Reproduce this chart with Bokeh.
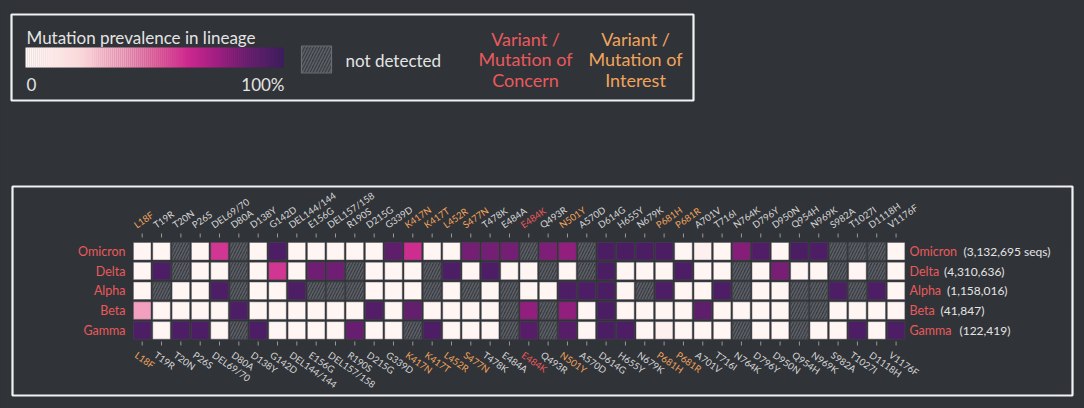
import numpy as np
from bokeh.plotting import figure
from bokeh.models import Range1d, ColumnDataSource, LinearColorMapper
from bokeh.core.properties import value
from bokeh.embed import file_html
from bokeh.resources import INLINE

# ---------------- data ----------------
mutations = ["L18F", "T19R", "T20N", "P26S", "DEL69/70", "D80A", "D138Y", "G142D",
             "DEL144/144", "E156G", "DEL157/158", "R190S", "D215G", "G339D", "K417N",
             "K417T", "L452R", "S477N", "T478K", "E484A", "E484K", "Q493R", "N501Y",
             "A570D", "D614G", "H655Y", "N679K", "P681H", "P681R", "A701V", "T716I",
             "N764K", "D796Y", "D950N", "Q954H", "N969K", "S982A", "T1027I", "D1118H",
             "V1176F"]
mutation_kind = ["interest", "", "", "", "", "", "", "", "", "", "", "", "", "",
                 "interest", "interest", "interest", "interest", "", "", "concern", "",
                 "interest", "", "", "", "", "interest", "interest", "", "", "", "", "",
                 "", "", "", "", "", ""]
lineages = ["Omicron", "Delta", "Alpha", "Beta", "Gamma"]
seq_counts = ["(3,132,695 seqs)", "(4,310,636)", "(1,158,016)", "(41,847)", "(122,419)"]

N = None
omicron = [0.01, 0.01, N, 0.01, 0.6, N, 0.01, 0.95, 0.01, 0.01, 0.01, 0.01, 0.01, 0.9, 0.62,
           0.01, 0.01, 0.84, 0.84, 0.84, N, 0.82, 0.77, N, 0.96, 0.96, 0.96, 0.96, 0.01, 0.05,
           0.01, 0.8, 0.94, 0.01, 0.96, 0.95, N, N, N, 0.01]
delta = [0.01, 0.95, N, 0.01, 0.01, N, 0.01, 0.6, 0.01, 0.85, 0.85, N, 0.01, 0.01, 0.01,
         N, 0.95, 0.01, 0.95, 0.01, 0.01, N, 0.01, N, 0.96, 0.01, 0.01, 0.01, 0.95, 0.01,
         0.01, N, 0.01, 0.83, 0.01, 0.01, N, 0.01, N, 0.01]
alpha = [0.01, N, 0.01, 0.01, 0.95, N, 0.01, 0.01, 0.95, N, N, N, 0.01, 0.01, 0.01,
         N, 0.01, N, 0.01, N, 0.01, 0.01, 0.95, 0.95, 0.96, 0.01, N, 0.95, 0.01, 0.01,
         0.95, N, 0.01, 0.01, N, N, 0.95, N, 0.95, 0.01]
beta = [0.38, 0.01, 0.01, 0.01, 0.01, 0.95, 0.01, 0.01, 0.01, 0.01, 0.01, 0.01, 0.93, 0.01, 0.88,
        0.01, 0.01, 0.01, 0.01, N, 0.77, N, 0.77, 0.01, 0.96, 0.01, 0.01, 0.01, 0.01, 0.9,
        0.01, 0.01, 0.01, 0.01, N, N, 0.01, 0.01, 0.01, 0.01]
gamma = [0.95, 0.01, 0.95, 0.95, 0.01, N, 0.95, 0.01, 0.01, 0.01, 0.01, 0.87, 0.01, 0.01, N,
         0.95, 0.01, 0.01, 0.01, N, 0.92, N, 0.92, 0.01, 0.96, 0.95, 0.01, 0.05, 0.01, 0.01,
         0.01, N, 0.01, 0.01, N, 0.01, 0.01, 0.95, 0.01, 0.95]
prevalence = [omicron, delta, alpha, beta, gamma]

# ---------------- style ----------------
BG = "#303338"
FONT = value("Lato")
TXT = "#e4e4e4"
RED = "#ea5a5c"
ORANGE = "#f0a45c"
LABEL = "#d6d6d6"

stops = [(0.0, (255, 247, 245)), (0.2, (250, 218, 220)), (0.38, (242, 160, 190)),
         (0.52, (224, 90, 156)), (0.63, (204, 40, 142)), (0.75, (156, 30, 128)),
         (0.87, (104, 30, 112)), (1.0, (62, 28, 94))]

def lerp_color(t):
    for (a, ca), (b, cb) in zip(stops[:-1], stops[1:]):
        if t <= b:
            f = (t - a) / (b - a)
            c = [int(round(ca[i] + (cb[i] - ca[i]) * f)) for i in range(3)]
            return "#%02x%02x%02x" % tuple(c)
    return "#%02x%02x%02x" % stops[-1][1]

palette = [lerp_color(t) for t in np.linspace(0, 1, 256)]
mapper = LinearColorMapper(palette=palette, low=0, high=1)

# layout (page pixel coordinates)
X0, DX = 141.7, 19.33
Y0, DY = 250.7, 19.8
CELL = 17.6

W, H = 1084, 408
p = figure(width=W, height=H, output_backend="svg", toolbar_location=None,
           x_range=Range1d(0, W), y_range=Range1d(H, 0),
           min_border=0, background_fill_color=BG, border_fill_color=BG,
           outline_line_color=None)
p.axis.visible = False
p.grid.visible = False

# boxes
p.quad(left=[11], right=[693], top=[14], bottom=[100], fill_color=None,
       line_color="#f2f2f2", line_width=2.2)
p.quad(left=[12], right=[1072], top=[186], bottom=[395], fill_color=None,
       line_color="#f2f2f2", line_width=2.2)

# heatmap
xs, ys, vals, nx, ny = [], [], [], [], []
for r, row in enumerate(prevalence):
    for c, v in enumerate(row):
        x = X0 + c * DX
        y = Y0 + r * DY
        if v is None:
            nx.append(x); ny.append(y)
        else:
            xs.append(x); ys.append(y); vals.append(v)
src = ColumnDataSource(dict(x=xs, y=ys, v=vals))
p.rect(x="x", y="y", width=CELL, height=CELL, source=src,
       fill_color={"field": "v", "transform": mapper},
       line_color="#4a4a50", line_width=0.8, line_alpha=0.6)
p.rect(x=nx, y=ny, width=CELL, height=CELL, fill_color="#383b40",
       hatch_pattern="/", hatch_color="#5c5f65", hatch_scale=6, hatch_weight=1.6,
       line_color="#45484d", line_width=0.8)

# row labels
row_y = [Y0 + r * DY for r in range(len(lineages))]
p.text(x=[125] * len(lineages), y=row_y, text=lineages, text_align="right",
       text_baseline="middle", text_color=RED, text_font=FONT, text_font_size="12.5px")
name_x = 909
p.text(x=[name_x] * len(lineages), y=row_y, text=lineages, text_align="left",
       text_baseline="middle", text_color=RED, text_font=FONT, text_font_size="12.5px")
count_offsets = [54, 34.5, 37.5, 31, 50]
p.text(x=[name_x + o for o in count_offsets], y=row_y, text=seq_counts, text_align="left",
       text_baseline="middle", text_color=TXT, text_font=FONT, text_font_size="12px")

# column labels and ticks
col_x = [X0 + c * DX for c in range(len(mutations))]
col_colors = [ORANGE if k == "interest" else RED if k == "concern" else LABEL for k in mutation_kind]
p.segment(x0=col_x, x1=col_x, y0=[233] * len(col_x), y1=[237] * len(col_x),
          line_color="#9a9a9a", line_width=1)
p.segment(x0=col_x, x1=col_x, y0=[341] * len(col_x), y1=[345] * len(col_x),
          line_color="#9a9a9a", line_width=1)
ang = np.deg2rad(35)
p.text(x=[cx - 4 for cx in col_x], y=[230] * len(col_x), text=mutations, angle=ang,
       text_align="left", text_baseline="bottom", text_color=col_colors,
       text_font=FONT, text_font_size="9.5px")
p.text(x=[cx - 3 for cx in col_x], y=[349] * len(col_x), text=mutations, angle=-ang,
       text_align="left", text_baseline="top", text_color=col_colors,
       text_font=FONT, text_font_size="9.5px")

# legend: gradient
n = 128
edges = np.linspace(25, 283, n + 1)
p.quad(left=edges[:-1], right=edges[1:] + 0.3, top=[47] * n, bottom=[67] * n,
       fill_color=[palette[int(i * 255 / (n - 1))] for i in range(n)], line_color=None)
p.text(x=[26], y=[37], text=["Mutation prevalence in lineage"], text_baseline="middle",
       text_color=TXT, text_font=FONT, text_font_size="17px")
p.text(x=[26], y=[84], text=["0"], text_baseline="middle",
       text_color=TXT, text_font=FONT, text_font_size="17px")
p.text(x=[284], y=[84], text=["100%"], text_baseline="middle", text_align="right",
       text_color=TXT, text_font=FONT, text_font_size="17px")
# legend: not detected
p.rect(x=[316], y=[59], width=30, height=27, fill_color="#383b40",
       hatch_pattern="/", hatch_color="#5c5f65", hatch_scale=6, hatch_weight=1.6,
       line_color="#6a6d72", line_width=1.2)
p.text(x=[345], y=[60], text=["not detected"], text_baseline="middle",
       text_color=TXT, text_font=FONT, text_font_size="17px")
# legend: variant classes
p.text(x=[525] * 3, y=[38, 58, 79], text=["Variant /", "Mutation of", "Concern"],
       text_align="center", text_baseline="middle", text_color=RED,
       text_font=FONT, text_font_size="18px")
p.text(x=[635] * 3, y=[38, 58, 79], text=["Variant /", "Mutation of", "Interest"],
       text_align="center", text_baseline="middle", text_color=ORANGE,
       text_font=FONT, text_font_size="18px")

html = file_html(p, INLINE)
html = html.replace("<head>", "<head><style>html,body{background:%s;margin:0;padding:0;overflow:hidden;}</style>" % BG, 1)
open("out.html", "w").write(html)
